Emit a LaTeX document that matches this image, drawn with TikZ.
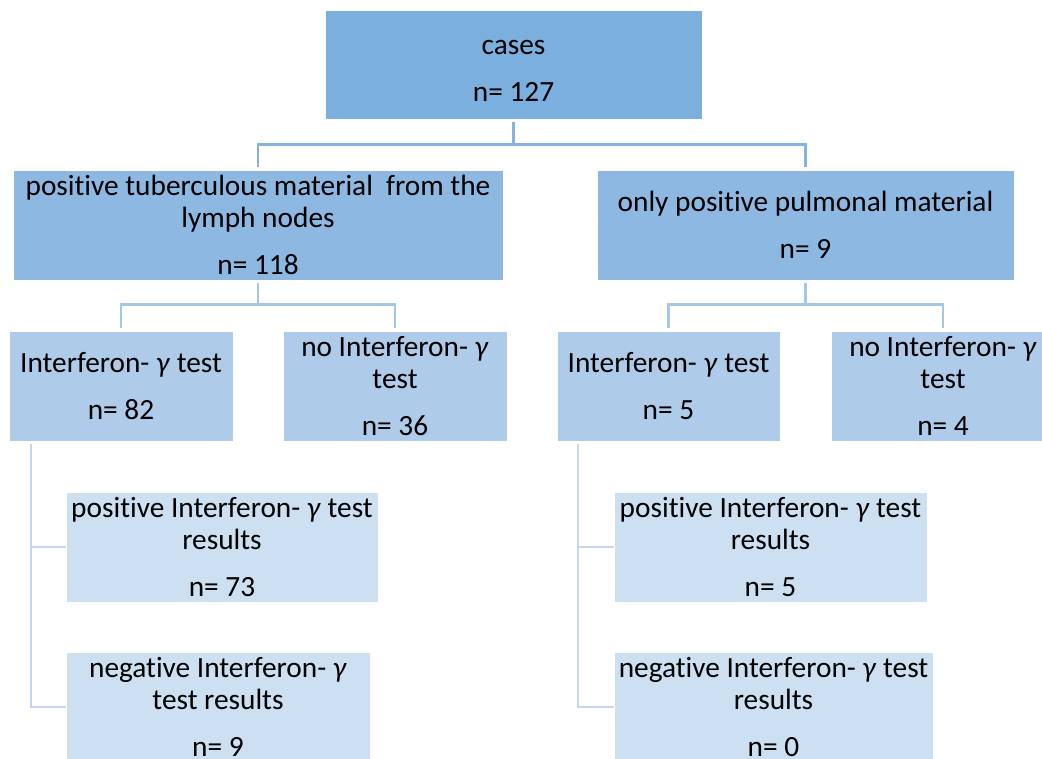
\documentclass[tikz,border=0pt]{standalone}
\usepackage{fontspec}
\setmainfont{Carlito}[Ligatures=NoCommon]
\definecolor{lvA}{HTML}{7BAFDE}
\definecolor{lvB}{HTML}{8DB8E1}
\definecolor{lvC}{HTML}{AECCEA}
\definecolor{lvD}{HTML}{CCE0F2}
\definecolor{lnA}{HTML}{86B3E0}
\definecolor{lnB}{HTML}{A6C6E8}
\definecolor{lnC}{HTML}{C3D7EE}
\newcommand{\gm}{\textit{γ}}
% box from corner (x1,y1) to (x2,y2), given in pixel units
\newcommand{\bx}[7]{%
  \node[box, fill=#6, anchor=center,
        minimum width={(#4-#2)*0.75pt}, minimum height={(#5-#3)*0.75pt}]
        (#1) at ({(#2+#4)/2},{(#3+#5)/2}) {#7};}
\begin{document}
\begin{tikzpicture}[x=0.75pt,y=-0.75pt,
  box/.style={draw=white, line width=0.5pt, inner sep=0pt, align=center,
    font=\fontsize{22}{24}\selectfont, text=black},
  linkA/.style={draw=lnA, line width=2.2pt},
  linkB/.style={draw=lnB, line width=2.2pt},
  linkC/.style={draw=lnC, line width=2.2pt}]
\clip (0,0) rectangle (1042,758);
\fill[white] (0,0) rectangle (1042,758);
% level 1
\bx{cases}{325}{10}{702}{119}{lvA}{\rule{0pt}{20pt}cases\\[11pt]n= 127}
% level 2
\bx{lymph}{13}{170}{503}{280}{lvB}{positive tuberculous material~ from the\\lymph nodes\\[11pt]n= 118}
\bx{pulm}{597}{170}{1014}{280}{lvB}{only positive pulmonal material\\[11pt]n= 9}
% level 3
\bx{igA}{9}{331}{233}{441}{lvC}{Interferon- \gm{} test\\[11pt]n= 82}
\bx{noA}{283}{331}{507}{441}{lvC}{no Interferon- \gm\\test\\[11pt]n= 36}
\bx{igB}{557}{331}{780}{441}{lvC}{Interferon- \gm{} test\\[11pt]n= 5}
\bx{noB}{831}{331}{1055}{441}{lvC}{no Interferon- \gm\\test\\[11pt]n= 4}
% level 4
\bx{posA}{66}{492}{378}{602}{lvD}{positive Interferon- \gm{} test\\results\\[11pt]n= 73}
\bx{negA}{66}{652}{370}{762}{lvD}{negative Interferon- \gm\\test results\\[11pt]n= 9}
\bx{posB}{614}{492}{927}{602}{lvD}{positive Interferon- \gm{} test\\results\\[11pt]n= 5}
\bx{negB}{614}{652}{933}{762}{lvD}{negative Interferon- \gm{} test\\results\\[11pt]n= 0}
% connectors level 1 -> 2
\draw[linkA] (cases.south) ++(0,3) -- ++(0,23);
\draw[linkA] (lymph.north) ++(0,-3) -- ++(0,-22) -| ([yshift=3*0.75pt]pulm.north);
% connectors level 2 -> 3
\draw[linkB] (lymph.south) ++(0,3) -- ++(0,22);
\draw[linkB] (igA.north) ++(0,-3) -- ++(0,-23) -| ([yshift=3*0.75pt]noA.north);
\draw[linkB] (pulm.south) ++(0,3) -- ++(0,22);
\draw[linkB] (igB.north) ++(0,-3) -- ++(0,-23) -| ([yshift=3*0.75pt]noB.north);
% connectors level 3 -> 4
\coordinate (trunkA) at (31,444);
\draw[linkC] (trunkA) |- (negA.west);
\draw[linkC] (trunkA |- posA.west) -- (posA.west);
\coordinate (trunkB) at (578,444);
\draw[linkC] (trunkB) |- (negB.west);
\draw[linkC] (trunkB |- posB.west) -- (posB.west);
\end{tikzpicture}
\end{document}
